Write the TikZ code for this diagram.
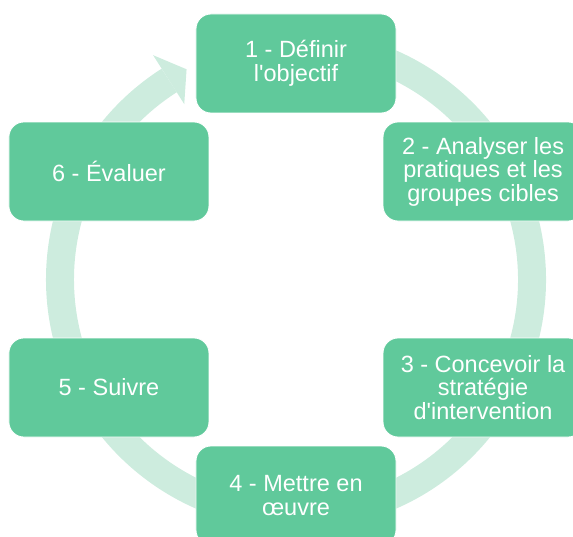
\documentclass[tikz,border=0pt]{standalone}
\usepackage{fontspec}
\newfontfamily\boxfont{Liberation Sans}
\usetikzlibrary{calc}
\definecolor{boxgreen}{RGB}{96,201,155}
\definecolor{ringgreen}{RGB}{205,236,222}
\tikzset{
    phase/.style = {draw=white, line width=0.8pt, fill=boxgreen,
        rounded corners=15pt, minimum width=200pt, minimum height=99pt,
        align=center, text=white,
        font=\boxfont\fontsize{23.5}{23.5}\selectfont},
    ring/.style = {draw=ringgreen, line width=28pt}
}
\begin{document}
\begin{tikzpicture}[x=1pt, y=1pt]
    \useasboundingbox (-296,-256.5) rectangle (277,279.5);
    % cycle ring, ending in the arrow head before phase 1
    \draw[ring] (100:236) arc[start angle=100, end angle=-237.5, radius=236];
    \fill[ringgreen] (122.5:208) -- (117.5:237) -- (122.5:266) -- cycle;
    \foreach \a/\ang/\txt in {1/90/{1 - Définir\\l'objectif},
        2/30/{2 - Analyser les\\pratiques et les\\groupes cibles},
        3/-30/{3 - Concevoir la\\stratégie\\d'intervention},
        4/-90/{4 - Mettre en\\œuvre},
        5/-150/{5 - Suivre},
        6/150/{6 - Évaluer}}{
        \node[phase] (phase\a) at (\ang:216) {\txt};
    }
\end{tikzpicture}
\end{document}
